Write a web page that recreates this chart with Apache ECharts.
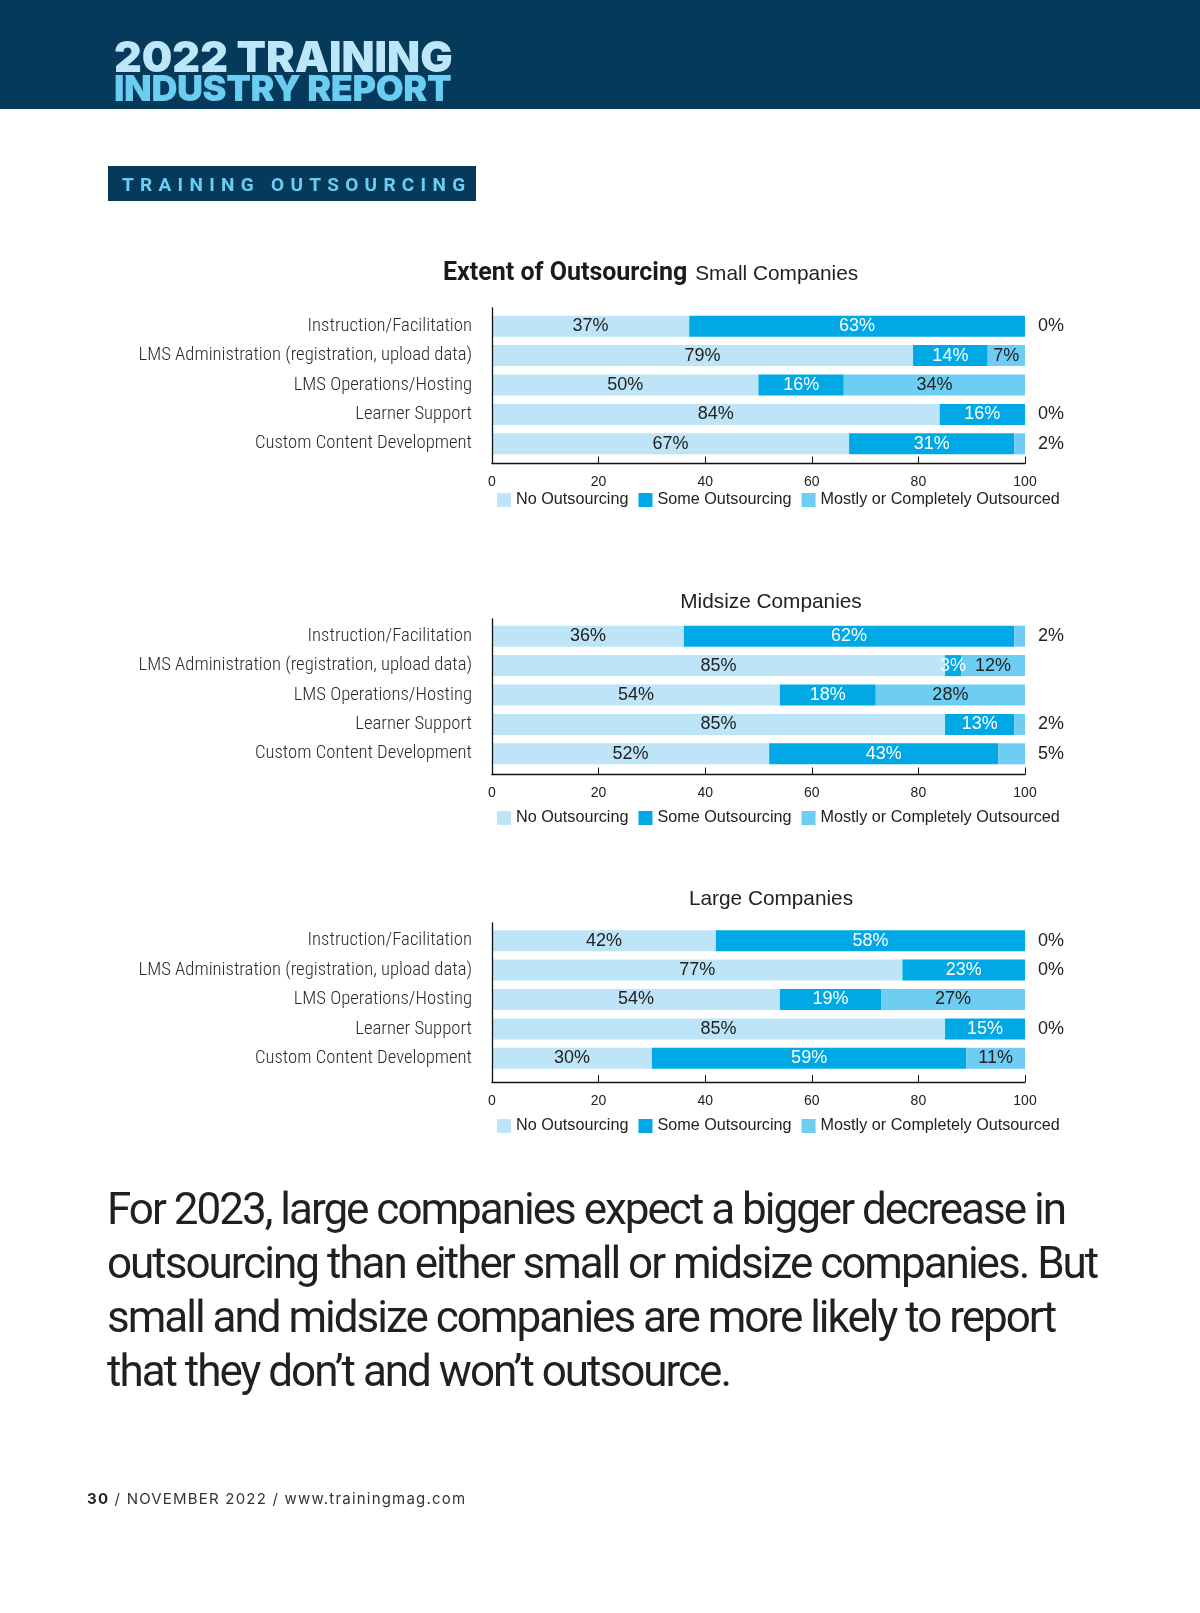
<!DOCTYPE html>
<html>
<head>
<meta charset="utf-8">
<script src="https://cdn.jsdelivr.net/npm/echarts@6/dist/echarts.min.js"></script>
<style>
  html, body { margin:0; padding:0; background:#fff; }
  #page { position:relative; width:1200px; height:1613px; overflow:hidden; background:#fff; }
  #chart { position:absolute; left:0; top:0; width:1200px; height:1613px; }
  .hdr { position:absolute; left:0; top:0; width:1200px; height:109px; background:#053a5a; }
  .h1, .h2 { position:absolute; left:114px; font-family:Inter, Roboto, sans-serif; font-weight:900; white-space:nowrap; }
  .h1 { top:35px; font-size:43px; line-height:43px; color:#bde6f8; letter-spacing:0px; }
  .h2 { top:70px; font-size:36px; line-height:36px; color:#6ccdf3; letter-spacing:-0.4px; }
  .sec { position:absolute; left:108px; top:166px; width:368px; height:35px; background:#053a5a; }
  .sec span { position:absolute; left:14px; top:2px; line-height:34px; font-family:Roboto, sans-serif; font-weight:700; font-size:19px; letter-spacing:6.3px; color:#6ccdf3; white-space:nowrap; }
  .para { position:absolute; left:107px; top:1182px; font-family:Roboto, sans-serif; font-size:44px; line-height:54px; color:#231f20; letter-spacing:-2px; white-space:nowrap; }
  .foot { position:absolute; left:87px; top:1489px; font-family:Inter, Roboto, sans-serif; font-size:15px; line-height:20px; color:#333; letter-spacing:1.2px; white-space:nowrap; }
  .foot b { color:#222; }
</style>
</head>
<body>
<div id="page">
  <div id="chart"></div>
  <div class="hdr"></div>
  <div class="h1">2022 TRAINING</div>
  <div class="h2">INDUSTRY REPORT</div>
  <div class="sec"><span>TRAINING OUTSOURCING</span></div>
  <div class="para">For 2023, large companies expect a bigger decrease in<br>outsourcing than either small or midsize companies. But<br>small and midsize companies are more likely to report<br>that they don’t and won’t outsource.</div>
  <div class="foot"><b>30</b> / NOVEMBER 2022 / www.trainingmag.com</div>
</div>
<script>
// ---- data ----
const categories = [
  "Instruction/Facilitation",
  "LMS Administration (registration, upload data)",
  "LMS Operations/Hosting",
  "Learner Support",
  "Custom Content Development"
];
const seriesNames = ["No Outsourcing", "Some Outsourcing", "Mostly or Completely Outsourced"];
const panelTitles = ["Small Companies", "Midsize Companies", "Large Companies"];
const xTicks = [0, 20, 40, 60, 80, 100];

const smallNone   = [37, 79, 50, 84, 67];
const smallSome   = [63, 14, 16, 16, 31];
const smallMostly = [0, 7, 34, 0, 2];

const midNone   = [36, 85, 54, 85, 52];
const midSome   = [62, 3, 18, 13, 43];
const midMostly = [2, 12, 28, 2, 5];

const largeNone   = [42, 77, 54, 85, 30];
const largeSome   = [58, 23, 19, 15, 59];
const largeMostly = [0, 0, 27, 0, 11];

const panels = [
  [smallNone, smallSome, smallMostly],
  [midNone, midSome, midMostly],
  [largeNone, largeSome, largeMostly]
];

// ---- layout / style ----
const colors = ["#bde5f7", "#00a8e6", "#6dcdf3"];
const barTops = [311.5, 621.5, 926];
const barHeight = 147;
const frameTops = [308, 619, 923];
const frameBottoms = [463.5, 774.5, 1082];
const legendTops = [487, 805, 1113];
const plotLeft = 492, plotWidth = 533;
const labelFont = "'Liberation Sans', Arial, sans-serif";
const catFont = "'Liberation Sans Narrow', 'Roboto Condensed', Roboto, sans-serif";

const grids = [], xAxes = [], yAxes = [], series = [], legends = [];
panels.forEach((vals, g) => {
  const gb = 2 * g, gf = 2 * g + 1;
  // bar grid
  grids.push({ left: plotLeft, width: plotWidth, top: barTops[g], height: barHeight });
  // frame grid (axis lines, ticks, tick labels)
  grids.push({ left: plotLeft, width: plotWidth, top: frameTops[g], height: frameBottoms[g] - frameTops[g] });

  xAxes.push({ type: 'value', gridIndex: gb, min: 0, max: 100, show: false });
  xAxes.push({
    type: 'value', gridIndex: gf, min: xTicks[0], max: xTicks[xTicks.length - 1], interval: 20,
    axisLine: { show: true, lineStyle: { color: '#111', width: 1.3 } },
    axisTick: { show: true, inside: true, length: 7, lineStyle: { color: '#111', width: 1 } },
    axisLabel: { fontSize: 14, color: '#222', fontFamily: labelFont, margin: 12 },
    splitLine: { show: false }, z: 5
  });
  yAxes.push({
    type: 'category', gridIndex: gb, data: categories, inverse: true,
    axisLine: { show: false }, axisTick: { show: false },
    axisLabel: { fontSize: 18.7, fontWeight: 300, color: '#2a2a2a', fontFamily: catFont, margin: 20 }
  });
  yAxes.push({
    type: 'category', gridIndex: gf, data: categories, inverse: true,
    axisLine: { show: true, lineStyle: { color: '#111', width: 1.3 } },
    axisTick: { show: false }, axisLabel: { show: false }, z: 5
  });

  vals.forEach((arr, s) => {
    const data = arr.map(v => {
      if (s === 2 && v <= 5) {
        return { value: v, label: { position: 'right', distance: 13, color: '#222' } };
      }
      return { value: v };
    });
    series.push({
      type: 'bar', name: seriesNames[s], xAxisIndex: gb, yAxisIndex: gb, stack: 'p' + g,
      barWidth: 21, itemStyle: { color: colors[s] }, data: data,
      label: {
        show: true, position: 'inside', formatter: '{c}%',
        fontSize: 18, fontFamily: labelFont,
        color: s === 1 ? '#ffffff' : '#222'
      },
      emphasis: { disabled: true }
    });
  });
  legends.push({
    data: seriesNames, left: 492, top: legendTops[g], orient: 'horizontal',
    icon: 'rect', itemWidth: 14, itemHeight: 14, itemGap: 10,
    textStyle: { fontSize: 16.2, color: '#222', fontFamily: labelFont },
    selectedMode: false
  });
});

const chart = echarts.init(document.getElementById('chart'), null, { renderer: 'canvas' });
chart.setOption({
  animation: false,
  grid: grids, xAxis: xAxes, yAxis: yAxes, series: series, legend: legends,
  graphic: [
    { type: 'text', x: 443, y: 274, style: {
      text: '{b|Extent of Outsourcing}{r|' + panelTitles[0] + '}',
      verticalAlign: 'middle', align: 'left',
      rich: {
        b: { fontSize: 25, fontWeight: 'bold', fontFamily: 'Roboto, sans-serif', fill: '#1a1a1a', color: '#1a1a1a' },
        r: { fontSize: 20.8, fontFamily: labelFont, fill: '#222', color: '#222', padding: [0, 0, 0, 8] }
      } } },
    { type: 'text', x: 771, y: 602, style: { text: panelTitles[1], fontSize: 20.8, fontFamily: labelFont, fill: '#222', align: 'center', verticalAlign: 'middle' } },
    { type: 'text', x: 771, y: 899, style: { text: panelTitles[2], fontSize: 20.8, fontFamily: labelFont, fill: '#222', align: 'center', verticalAlign: 'middle' } }
  ]
});
</script>
</body>
</html>
